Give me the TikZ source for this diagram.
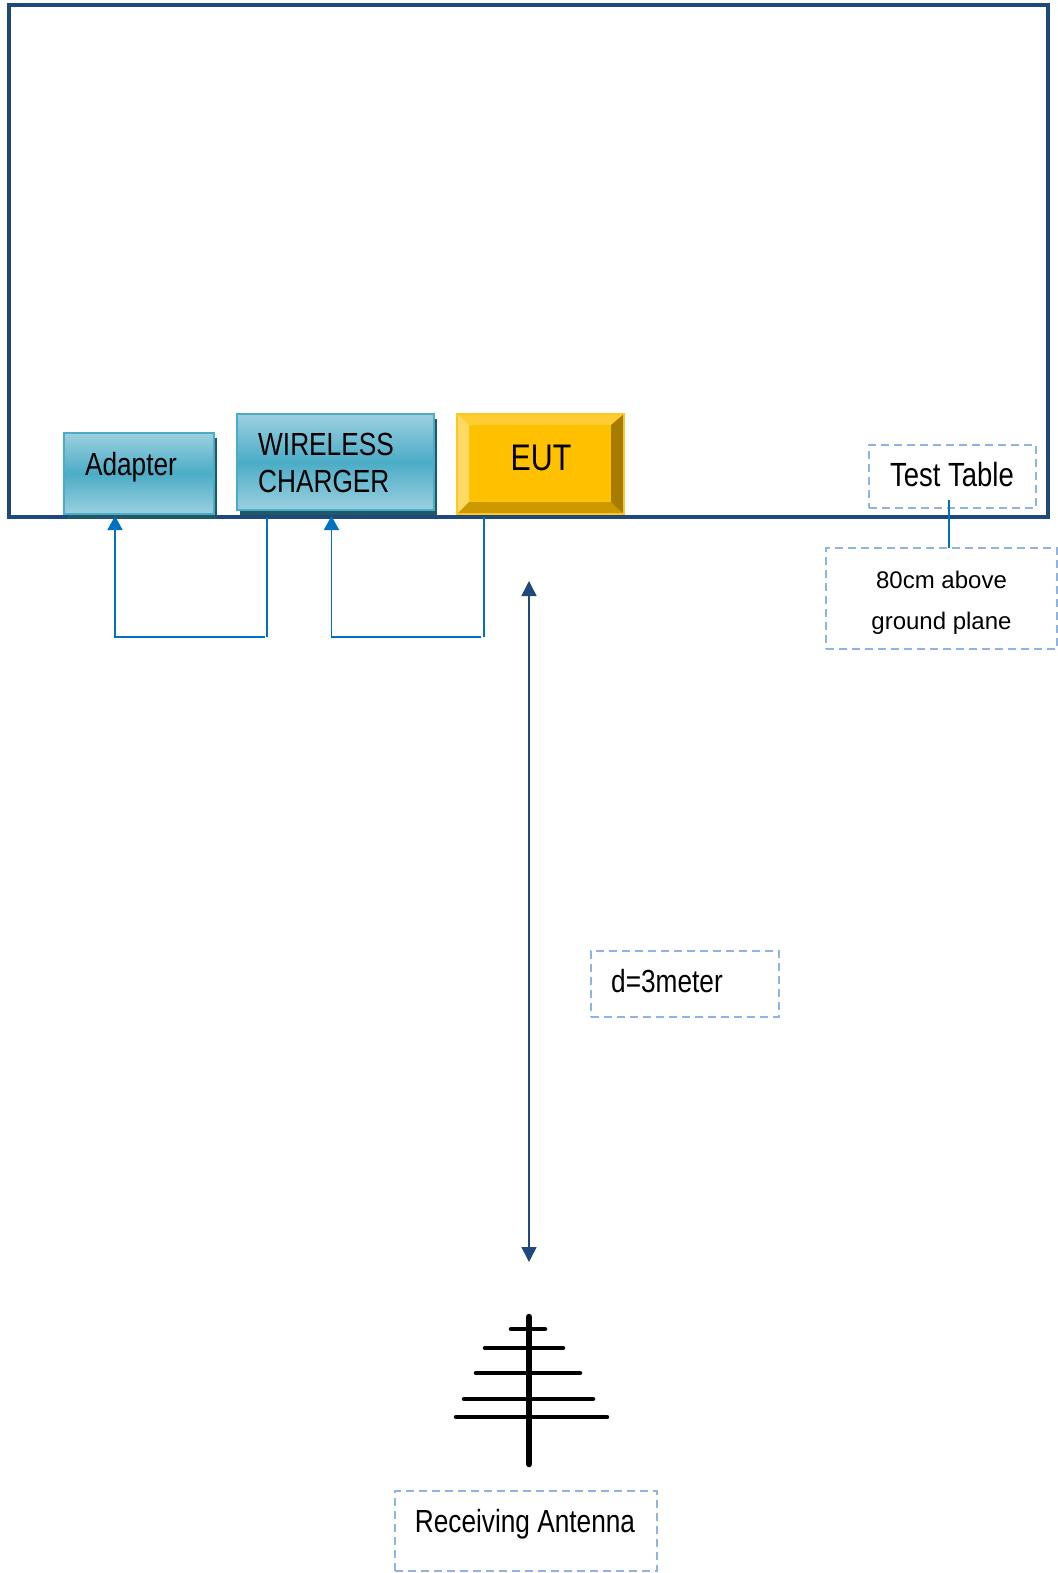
\documentclass[tikz,border=0pt]{standalone}
\usepackage{fontspec}
\setmainfont{Liberation Sans}
\newfontfamily\narrowfont[FakeStretch=0.82]{Liberation Sans}
\usetikzlibrary{arrows,arrows.meta,shadows}
\definecolor{navy}{HTML}{1F497D}
\definecolor{wireblue}{HTML}{0070C0}
\definecolor{dashblue}{HTML}{8EB4E3}
\definecolor{tealmid}{HTML}{4BACC6}
\definecolor{teallight}{HTML}{9CD0E0}
\definecolor{tealdark}{HTML}{215868}
\definecolor{eutfill}{HTML}{FFC000}
\definecolor{eutedge}{HTML}{FFC81E}
\definecolor{bevelt}{HTML}{FFCD33}
\definecolor{bevell}{HTML}{FFD966}
\definecolor{bevelb}{HTML}{CC9A00}
\definecolor{bevelr}{HTML}{A67C00}
\tikzset{
x=1pt,y=-1pt,
>=Stealth,
frame node/.style={draw=navy,line width=4pt,inner sep=0pt,outer sep=0pt},
teal node/.style={draw=tealmid,line width=2.5pt,inner sep=0pt,outer sep=0pt,
  top color=teallight,bottom color=teallight,middle color=tealmid,
  general shadow={fill=tealdark,shadow xshift=3pt,shadow yshift=-5pt}},
dash node/.style={draw=dashblue,line width=1.8pt,dash pattern=on 8pt off 5pt,inner sep=0pt,outer sep=0pt},
texto/.style={font=\narrowfont\fontsize{32}{37}\selectfont,inner sep=0pt,align=left,text=black},
freccia/.style={draw=wireblue,line width=1.6pt,-{Triangle[length=14pt,width=15pt]}},
filo/.style={draw=wireblue,line width=1.6pt},
distanza/.style={draw=navy,line width=1.5pt,{Triangle[length=15pt,width=15pt]}-{Triangle[length=15pt,width=15pt]}},
rung/.style={line width=4.5pt,line cap=round}}

\begin{document}
\begin{tikzpicture}

\useasboundingbox (0,0) rectangle (1057,1573);

\node[frame node,minimum width=1039pt,minimum height=512pt] (table) at (528.5,261) {};

\node[teal node,minimum width=150pt,minimum height=81pt] (adapter) at (139,473.5) {};
\node[teal node,minimum width=197pt,minimum height=96pt] (charger) at (335.5,462) {};
\node[fill=eutfill,minimum width=167pt,minimum height=100pt,inner sep=0pt,outer sep=0pt] (eut) at (540.5,464) {};

% bevel of the EUT box
\coordinate (i1) at (469,425);
\coordinate (i2) at (611,425);
\coordinate (i3) at (611,502);
\coordinate (i4) at (469,502);
\fill[bevelt] (eut.north west) -- (eut.north east) -- (i2) -- (i1) -- cycle;
\fill[bevell] (eut.north west) -- (i1) -- (i4) -- (eut.south west) -- cycle;
\fill[bevelb] (eut.south west) -- (i4) -- (i3) -- (eut.south east) -- cycle;
\fill[bevelr] (eut.north east) -- (eut.south east) -- (i3) -- (i2) -- cycle;
\draw[eutedge,line width=1.5pt] (eut.north west) rectangle (eut.south east);

\node[texto] (adaptertxt) at (131,467) {Adapter};
\node[texto] (chargertxt) at (326,463) {WIRELESS\\CHARGER};
\node[texto,font=\narrowfont\fontsize{37}{42}\selectfont] (euttxt) at (541,458) {EUT};

\node[dash node,minimum width=167pt,minimum height=63pt] (testbox) at (952.5,476.5) {};
\node[dash node,minimum width=231pt,minimum height=101pt] (groundbox) at (941.5,598.5) {};
\node[dash node,minimum width=188pt,minimum height=66pt] (dbox) at (685,984) {};
\node[dash node,minimum width=262pt,minimum height=80pt] (rxbox) at (526,1531) {};

\node[texto,font=\narrowfont\fontsize{33.5}{38}\selectfont] (testtxt) at (952,475) {Test Table};
\node[font=\fontsize{24}{41}\selectfont,align=center,inner sep=0pt] (groundtxt) at (941.5,603) {80cm above\\ground plane};
\node[texto] (dtxt) at (667,981) {d=3meter};
\node[texto] (rxtxt) at (525,1524) {Receiving Antenna};

\coordinate (w1) at (267,517);
\coordinate (w2) at (267,637);
\coordinate (w3) at (264.5,637);
\coordinate (w4) at (115,637);
\coordinate (w5) at (115,516);
\coordinate (w6) at (483.7,517);
\coordinate (w7) at (483.7,637);
\coordinate (w8) at (481,637);
\coordinate (w9) at (331.5,637);
\coordinate (w10) at (331.5,516);

\draw[filo] (w1) -- (w2);
\draw[freccia] (w3) -- (w4) -- (w5);
\draw[filo] (w6) -- (w7);
\draw[freccia] (w8) -- (w9) -- (w10);

\coordinate (t1) at (949,500);
\draw[filo] (t1) -- (groundbox.north -| t1);

\coordinate (d1) at (529,581);
\coordinate (d2) at (529,1262);
\draw[distanza] (d1) -- (d2);

% the antenna
\coordinate (top) at (529,1317);
\coordinate (bottom) at (529,1464);
\draw[line width=6.5pt,line cap=round] (top) -- (bottom);
\coordinate (r1a) at (511,1329); \coordinate (r1b) at (545,1329);
\coordinate (r2a) at (485,1348); \coordinate (r2b) at (563,1348);
\coordinate (r3a) at (476,1373); \coordinate (r3b) at (580,1373);
\coordinate (r4a) at (464,1399); \coordinate (r4b) at (593,1399);
\coordinate (r5a) at (456,1417); \coordinate (r5b) at (607,1417);
\foreach \r in {1,...,5}
  \draw[rung] (r\r a) -- (r\r b);

\end{tikzpicture}
\end{document}
